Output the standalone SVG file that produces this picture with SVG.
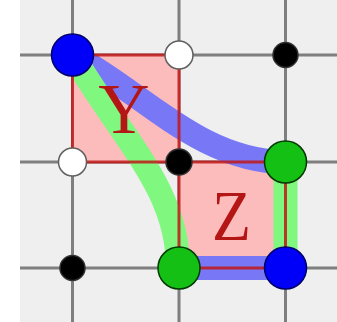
<svg xmlns="http://www.w3.org/2000/svg" width="337" height="322" viewBox="0 0 337 322">
  <style>
    .grid { stroke: #7f7f7f; stroke-width: 3; fill: none; }
    .sqfill { fill: #fcbcbc; stroke: none; }
    .sqedge { fill: none; stroke: #c01818; stroke-width: 3; stroke-opacity: 0.85; }
    .bandB { fill: none; stroke: #7878f6; stroke-width: 24; }
    .bandG { fill: none; stroke: #80f880; stroke-width: 24; }
    .big-blue { fill: #0000f8; stroke: #00006a; stroke-width: 1.5; }
    .big-green { fill: #14c014; stroke: #003a00; stroke-width: 1.5; }
    .white { fill: #ffffff; stroke: #606060; stroke-width: 1.5; }
    .black { fill: #000000; stroke: #303030; stroke-width: 1.5; }
    .lbl { font-family: "Liberation Serif", "DejaVu Serif", serif; font-size: 71px; fill: #b41616; text-anchor: middle; }
  </style>
  <rect x="20" y="0" width="317" height="322" fill="#efefef"/>
  <g id="grid">
    <line class="grid" x1="72.5" y1="0" x2="72.5" y2="322"/>
    <line class="grid" x1="179" y1="0" x2="179" y2="322"/>
    <line class="grid" x1="285.5" y1="0" x2="285.5" y2="322"/>
    <line class="grid" x1="20" y1="55" x2="337" y2="55"/>
    <line class="grid" x1="20" y1="162" x2="337" y2="162"/>
    <line class="grid" x1="20" y1="268" x2="337" y2="268"/>
  </g>
  <g id="squareY-fill"><rect class="sqfill" x="72.5" y="55" width="106.5" height="107"/></g>
  <g id="squareZ-fill"><rect class="sqfill" x="179" y="162" width="106.5" height="106"/></g>
  <g id="connectors">
    <path class="bandB" d="M72.5,55 C140,90 200,162 285.5,162"/>
    <path class="bandB" d="M179,268 L285.5,268"/>
    <path class="bandG" d="M72.5,55 C126.5,145 178,190 178,268"/>
    <path class="bandG" d="M285.5,162 L285.5,268"/>
  </g>
  <g id="squareY">
    <rect class="sqedge" x="72.5" y="55" width="106.5" height="107"/>
    <text class="lbl" x="124" y="133">Y</text>
  </g>
  <g id="squareZ">
    <rect class="sqedge" x="179" y="162" width="106.5" height="106"/>
    <text class="lbl" x="231.5" y="240" textLength="39" lengthAdjust="spacingAndGlyphs">Z</text>
  </g>
  <g id="n-blue1"><circle class="big-blue" cx="72.5" cy="55" r="21"/></g>
  <g id="n-white1"><circle class="white" cx="179" cy="55" r="14"/></g>
  <g id="n-black1"><circle class="black" cx="285.5" cy="55" r="12.5"/></g>
  <g id="n-white2"><circle class="white" cx="72.5" cy="162" r="14"/></g>
  <g id="n-black2"><circle class="black" cx="179" cy="162" r="13"/></g>
  <g id="n-green1"><circle class="big-green" cx="285.5" cy="162" r="21"/></g>
  <g id="n-black3"><circle class="black" cx="72.5" cy="268" r="12.5"/></g>
  <g id="n-green2"><circle class="big-green" cx="179" cy="268" r="21"/></g>
  <g id="n-blue2"><circle class="big-blue" cx="285.5" cy="268" r="21"/></g>
</svg>
